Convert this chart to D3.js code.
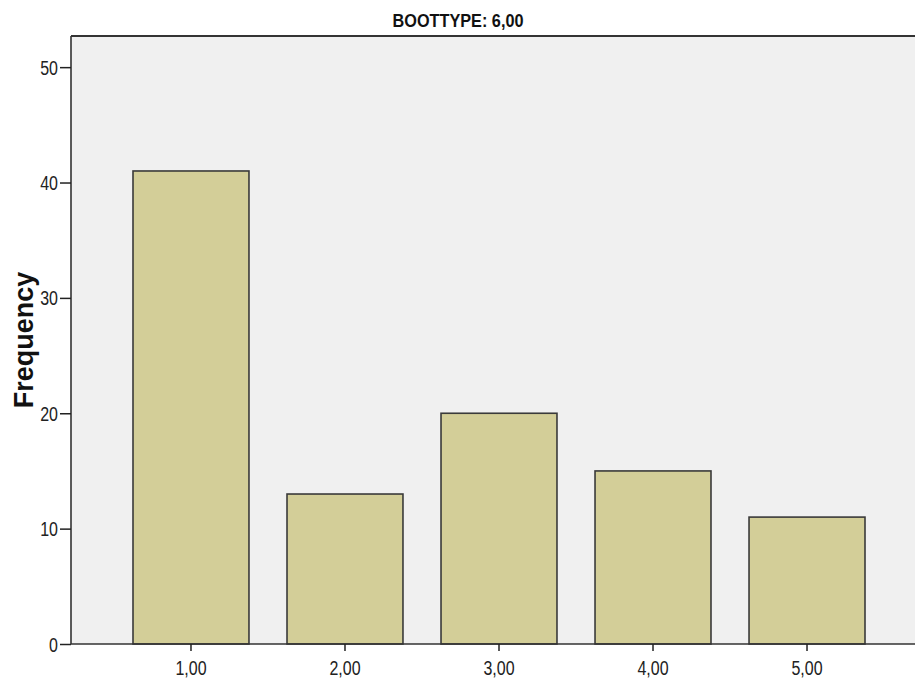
<!DOCTYPE html>
<html><head><meta charset="utf-8">
<script src="https://cdn.jsdelivr.net/npm/d3@7"></script>
<style>body{margin:0;background:#fff;overflow:hidden}svg{display:block}</style>
</head><body>
<svg id="c" width="915" height="682"></svg>
<script>
const categories = ["1,00","2,00","3,00","4,00","5,00"];
const frequencies = [41, 13, 20, 15, 11];
const yTicks = [0, 10, 20, 30, 40, 50];
const titleText = "BOOTTYPE: 6,00";
const yLabel = "Frequency";

const svg = d3.select("#c");
const mLeft = 71, mTop = 36, mBottom = 644, rightExt = 927;
const sans = "'Liberation Sans',Arial,sans-serif";
const squeeze = 0.82;

const x = d3.scaleBand().domain(categories).range([mLeft, rightExt]).paddingInner(0.247).paddingOuter(0.4026);
const y = d3.scaleLinear().domain([0, 52.7]).range([mBottom, mTop]);

svg.append("rect").attr("x", mLeft).attr("y", mTop).attr("width", rightExt - mLeft).attr("height", mBottom - mTop).attr("fill", "#f0f0f0");

svg.selectAll("rect.bar").data(frequencies).join("rect").attr("class","bar")
  .attr("x", (d,i) => x(categories[i]))
  .attr("y", d => y(d))
  .attr("width", x.bandwidth())
  .attr("height", d => y(0) - y(d))
  .attr("fill", "#d3ce98").attr("stroke", "#3a3a3a").attr("stroke-width", 1.6);

svg.append("line").attr("x1", mLeft).attr("x2", rightExt).attr("y1", mTop).attr("y2", mTop).attr("stroke", "#333").attr("stroke-width", 2);

const yAxis = svg.append("g").attr("transform", `translate(${mLeft},0)`)
  .call(d3.axisLeft(y).tickValues(yTicks).tickFormat(d3.format("d")).tickSize(11).tickSizeOuter(0));
yAxis.select(".domain").attr("stroke", "#333").attr("stroke-width", 1.6).attr("d", `M0,${mTop}V${mBottom}`);
yAxis.selectAll(".tick line").attr("stroke", "#222").attr("stroke-width", 1.5);
yAxis.selectAll(".tick text").attr("font-family", sans).attr("font-size", 19.5).attr("fill", "#222")
  .attr("x", -13 / squeeze).attr("dy", "0.36em").attr("transform", `scale(${squeeze},1)`);

const xAxis = svg.append("g").attr("transform", `translate(0,${mBottom})`)
  .call(d3.axisBottom(x).tickSize(7).tickSizeOuter(0));
xAxis.select(".domain").attr("stroke", "#333").attr("stroke-width", 1.6).attr("d", `M${mLeft},0H${rightExt}`);
xAxis.selectAll(".tick line").attr("stroke", "#222").attr("stroke-width", 1.5);
xAxis.selectAll(".tick text").attr("font-family", sans).attr("font-size", 19.5).attr("fill", "#222")
  .attr("y", 17).attr("dy", "0.71em").attr("transform", `scale(${squeeze},1)`);

svg.append("text").attr("x", 458).attr("y", 27).attr("text-anchor", "middle")
  .attr("font-family", sans).attr("font-weight", "bold").attr("font-size", 17.5).attr("fill", "#111")
  .attr("textLength", 131).attr("lengthAdjust", "spacingAndGlyphs").text(titleText);

svg.append("text").attr("transform", `translate(33,340) rotate(-90)`).attr("text-anchor", "middle")
  .attr("font-family", sans).attr("font-weight", "bold").attr("font-size", 27).attr("fill", "#111").text(yLabel);
</script>
</body></html>
